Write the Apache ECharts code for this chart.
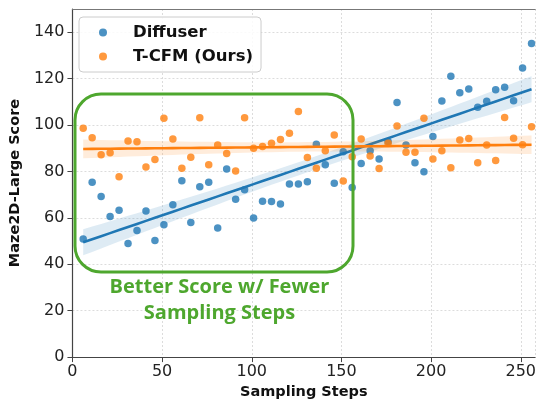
<!DOCTYPE html>
<html>
<head>
<meta charset="utf-8">
<script src="https://cdn.jsdelivr.net/npm/echarts@6/dist/echarts.min.js"></script>
<style>
html, body { margin: 0; padding: 0; background: #fff; }
#chart { width: 539px; height: 405px; }
</style>
</head>
<body>
<div id="chart"></div>
<script>
// sampling steps (x) shared by both methods
var steps = [6, 11, 16, 21, 26, 31, 36, 41, 46, 51, 56, 61, 66, 71, 76, 81, 86, 91, 96, 101,
             106, 111, 116, 121, 126, 131, 136, 141, 146, 151, 156, 161, 166, 171, 176, 181,
             186, 191, 196, 201, 206, 211, 216, 221, 226, 231, 236, 241, 246, 251, 256];

var diffuserScores = [50.9, 75.3, 69.2, 60.6, 63.3, 48.9, 54.6, 63, 50.2, 57, 65.7, 76, 58, 73.4,
                      75.3, 55.6, 81.1, 68, 72.1, 59.9, 67.2, 67, 66, 74.6, 74.6, 75.6, 91.7, 82.9,
                      74.9, 88.5, 73.1, 83.4, 88.9, 85.4, 92.9, 109.7, 91.4, 83.8, 79.9, 95.1, 110.4,
                      121, 113.9, 115.5, 107.7, 110.2, 115.2, 116.3, 110.5, 124.6, 135.1];

var tcfmScores = [98.6, 94.5, 87.2, 88.1, 77.7, 93.1, 92.8, 81.9, 85.1, 102.9, 94, 81.4, 86.1, 103.1,
                  82.9, 91.4, 87.7, 80.2, 103.1, 90, 90.8, 92.2, 93.8, 96.5, 105.8, 86, 81.4, 88.9,
                  95.7, 75.9, 86.3, 94, 86.7, 81.3, 92.1, 99.6, 88.3, 88.3, 102.9, 85.4, 88.9, 81.6,
                  93.5, 94.2, 83.7, 91.4, 84.7, 103.3, 94.3, 91.5, 99.3];

var seriesNames = ['Diffuser', 'T-CFM (Ours)'];
var BLUE = '#1f77b4', ORANGE = '#ff7f0e', GREEN = '#4ea72e';

// least squares fit with a 95% confidence band, like seaborn regplot
function regression(xs, ys) {
    var n = xs.length, mx = 0, my = 0;
    for (var i = 0; i < n; i++) { mx += xs[i]; my += ys[i]; }
    mx /= n; my /= n;
    var sxx = 0, sxy = 0;
    for (var i = 0; i < n; i++) { sxx += (xs[i] - mx) * (xs[i] - mx); sxy += (xs[i] - mx) * (ys[i] - my); }
    var b = sxy / sxx, a = my - b * mx, sse = 0;
    for (var i = 0; i < n; i++) { var r = ys[i] - a - b * xs[i]; sse += r * r; }
    var s = Math.sqrt(sse / (n - 2)), t = 2.01;
    var line = [], upper = [], lower = [];
    xs.forEach(function (x) {
        var yh = a + b * x;
        var se = s * Math.sqrt(1 / n + (x - mx) * (x - mx) / sxx);
        line.push([x, yh]);
        upper.push([x, yh + t * se]);
        lower.push([x, yh - t * se]);
    });
    return {line: line, upper: upper, lower: lower};
}

function pairs(xs, ys) {
    return xs.map(function (x, i) { return [x, ys[i]]; });
}

function bandSeries(fit, color, z) {
    return {
        type: 'custom',
        silent: true,
        z: z,
        data: [fit.line[0]],
        renderItem: function (params, api) {
            var pts = fit.upper.map(function (p) { return api.coord(p); })
                .concat(fit.lower.slice().reverse().map(function (p) { return api.coord(p); }));
            return {type: 'polygon', shape: {points: pts}, style: {fill: color, opacity: 0.15}};
        }
    };
}

var fitD = regression(steps, diffuserScores);
var fitT = regression(steps, tcfmScores);

var chart = echarts.init(document.getElementById('chart'));

var option = {
    animation: false,
    textStyle: {fontFamily: 'DejaVu Sans'},
    grid: {left: 71, top: 9, right: 0, bottom: 45},
    legend: {
        data: seriesNames,
        orient: 'vertical',
        left: 79, top: 17,
        padding: [7, 8, 7, 20],
        itemWidth: 8, itemHeight: 8, itemGap: 7,
        icon: 'circle',
        borderColor: '#cccccc', borderWidth: 1, borderRadius: 4,
        backgroundColor: 'rgba(255,255,255,0.85)',
        textStyle: {fontSize: 16.5, fontWeight: 'bold', color: '#111', fontFamily: 'DejaVu Sans',
                    lineHeight: 16, padding: [0, 0, 0, 21]}
    },
    xAxis: [{
        type: 'value', min: 0, max: 258, interval: 50,
        name: 'Sampling Steps', nameLocation: 'middle', nameGap: 26,
        nameTextStyle: {fontSize: 14.5, fontWeight: 'bold', color: '#111'},
        axisLine: {show: true, lineStyle: {color: '#444', width: 1.2}},
        axisTick: {show: true, length: 5, lineStyle: {color: '#444'}},
        axisLabel: {fontSize: 16, color: '#222', margin: 7, showMaxLabel: false},
        splitLine: {show: true, lineStyle: {color: '#d4d4d4', type: [2, 2], width: 0.8}}
    }, {
        type: 'value', position: 'top', min: 0, max: 258,
        axisLine: {show: true, lineStyle: {color: '#777', width: 1.2}},
        axisTick: {show: false}, axisLabel: {show: false}, splitLine: {show: false}
    }],
    yAxis: {
        type: 'value', min: 0, max: 150, interval: 20,
        name: 'Maze2D-Large Score', nameLocation: 'middle', nameGap: 46,
        nameTextStyle: {fontSize: 14.5, fontWeight: 'bold', color: '#111'},
        axisLine: {show: true, lineStyle: {color: '#444', width: 1.2}},
        axisTick: {show: true, length: 5, lineStyle: {color: '#444'}},
        axisLabel: {fontSize: 16, color: '#222', margin: 8, showMaxLabel: false},
        splitLine: {show: true, lineStyle: {color: '#d4d4d4', type: [2, 2], width: 0.8}}
    },
    series: [
        {
            name: seriesNames[0], type: 'scatter', z: 2,
            symbolSize: 7.5,
            itemStyle: {color: BLUE, opacity: 0.8},
            data: pairs(steps, diffuserScores)
        },
        bandSeries(fitD, BLUE, 3),
        {
            type: 'line', z: 4, showSymbol: false, silent: true,
            lineStyle: {color: BLUE, width: 2.6},
            data: fitD.line
        },
        {
            name: seriesNames[1], type: 'scatter', z: 5,
            symbolSize: 7.5,
            itemStyle: {color: ORANGE, opacity: 0.8},
            data: pairs(steps, tcfmScores)
        },
        bandSeries(fitT, ORANGE, 6),
        {
            type: 'line', z: 7, showSymbol: false, silent: true,
            lineStyle: {color: ORANGE, width: 2.6},
            data: fitT.line
        }
    ],
    graphic: [
        {
            type: 'rect', z: 100,
            shape: {x: 75, y: 94, width: 278, height: 178, r: 26},
            style: {fill: 'none', stroke: GREEN, lineWidth: 3}
        },
        {
            type: 'text', z: 100, x: 219.5, y: 274,
            style: {
                text: 'Better Score w/ Fewer\nSampling Steps',
                fill: GREEN, font: 'bold 20px "Open Sans"',
                textAlign: 'center', lineHeight: 26
            }
        }
    ]
};
chart.setOption(option);
</script>
</body>
</html>
